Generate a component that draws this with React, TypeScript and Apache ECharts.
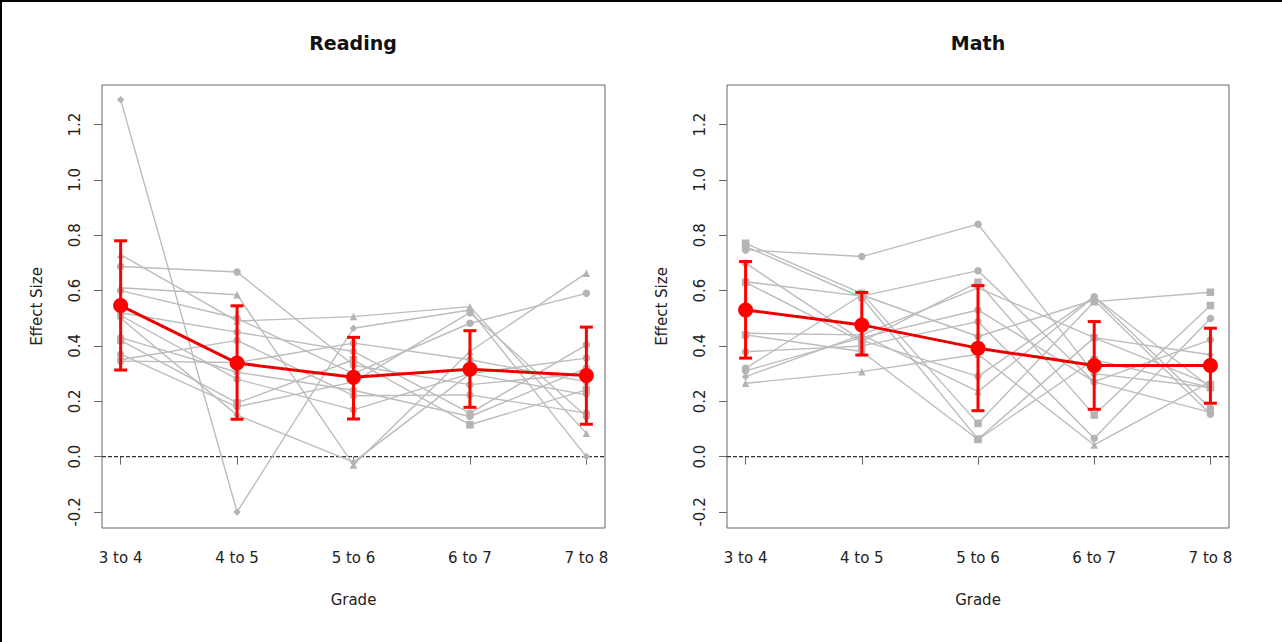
import React, { useEffect, useRef } from "react";
import * as echarts from "echarts";

const grades = ["3 to 4", "4 to 5", "5 to 6", "6 to 7", "7 to 8"];
const yTicks = [-0.2, 0, 0.2, 0.4, 0.6, 0.8, 1.0, 1.2];
const xTicks = [1, 2, 3, 4, 5];

// Reading: individual study lines (values at each grade) and their marker shapes
const readingLines: number[][] = [
  [1.29, -0.2, 0.464, 0.53, 0.0],
  [0.687, 0.667, 0.33, 0.26, 0.3],
  [0.61, 0.585, -0.03, 0.38, 0.663],
  [0.73, 0.49, 0.506, 0.542, 0.084],
  [0.6, 0.5, 0.3, 0.482, 0.59],
  [0.52, 0.45, 0.38, 0.157, 0.404],
  [0.51, 0.28, 0.169, 0.3, 0.356],
  [0.43, 0.305, 0.24, 0.145, 0.32],
  [0.42, 0.194, 0.35, 0.115, 0.241],
  [0.37, 0.18, 0.27, 0.52, 0.145],
  [0.35, 0.42, 0.22, 0.223, 0.157],
  [0.5, 0.15, -0.02, 0.3, 0.223],
  [0.345, 0.34, 0.41, 0.35, 0.27],
];
const readingShapes = ["diamond", "circle", "triangle", "triangle", "circle", "circle", "circle", "circle", "rect", "circle", "circle", "diamond", "circle"];
const readingMean = [0.546, 0.338, 0.287, 0.316, 0.293];
const readingLow = [0.313, 0.135, 0.136, 0.178, 0.117];
const readingHigh = [0.78, 0.545, 0.431, 0.455, 0.468];

// Math
const mathLines: number[][] = [
  [0.747, 0.723, 0.84, 0.3, 0.25],
  [0.771, 0.59, 0.12, 0.56, 0.594],
  [0.76, 0.575, 0.063, 0.43, 0.26],
  [0.699, 0.42, 0.29, 0.578, 0.175],
  [0.632, 0.58, 0.672, 0.27, 0.16],
  [0.63, 0.416, 0.63, 0.15, 0.546],
  [0.446, 0.44, 0.235, 0.578, 0.25],
  [0.379, 0.4, 0.488, 0.066, 0.499],
  [0.319, 0.584, 0.434, 0.566, 0.153],
  [0.289, 0.44, 0.61, 0.43, 0.368],
  [0.265, 0.307, 0.37, 0.042, 0.271],
  [0.31, 0.43, 0.53, 0.271, 0.422],
  [0.44, 0.38, 0.062, 0.35, 0.25],
];
const mathShapes = ["circle", "rect", "rect", "circle", "circle", "rect", "triangle", "circle", "circle", "diamond", "triangle", "circle", "rect"];
const mathMean = [0.53, 0.476, 0.392, 0.329, 0.329];
const mathLow = [0.356, 0.367, 0.166, 0.171, 0.193];
const mathHigh = [0.705, 0.593, 0.618, 0.488, 0.464];

const FONT = "DejaVu Sans";
const GRAY_LINE = "#bcbcbc";
const GRAY_PT = "#b4b4b4";
const RED = "#ff0000";
const AXIS = "#666666";

function panelSeries(idx: number, lines: number[][], shapes: string[], mean: number[], low: number[], high: number[]) {
  const s: any[] = [];
  lines.forEach((vals, i) => {
    s.push({
      type: "line",
      xAxisIndex: idx,
      yAxisIndex: idx,
      data: vals.map((v, j) => [xTicks[j], v]),
      symbol: shapes[i],
      symbolSize: 7.5,
      showSymbol: true,
      lineStyle: { color: GRAY_LINE, width: 1.4 },
      itemStyle: { color: GRAY_PT },
      z: 2,
      silent: true,
    });
  });
  // zero reference line
  s.push({
    type: "line",
    xAxisIndex: idx,
    yAxisIndex: idx,
    data: [[0.84, 0], [5.16, 0]],
    symbol: "none",
    lineStyle: { color: "#333333", width: 1.3, type: [4, 2] },
    z: 1,
    silent: true,
  });
  // error bars
  s.push({
    type: "custom",
    xAxisIndex: idx,
    yAxisIndex: idx,
    data: mean.map((m, j) => [xTicks[j], m, low[j], high[j]]),
    encode: { x: 0, y: [2, 3] },
    z: 3,
    silent: true,
    renderItem: (params: any, api: any) => {
      const x = api.value(0);
      const pLo = api.coord([x, api.value(2)]);
      const pHi = api.coord([x, api.value(3)]);
      const w = 6.5;
      const style = { stroke: RED, lineWidth: 3, fill: "none" };
      return {
        type: "group",
        children: [
          { type: "line", shape: { x1: pLo[0], y1: pLo[1], x2: pHi[0], y2: pHi[1] }, style },
          { type: "line", shape: { x1: pLo[0] - w, y1: pLo[1], x2: pLo[0] + w, y2: pLo[1] }, style },
          { type: "line", shape: { x1: pHi[0] - w, y1: pHi[1], x2: pHi[0] + w, y2: pHi[1] }, style },
        ],
      };
    },
  });
  // mean line (solid red under a darker dashed overlay) with big dots
  s.push({
    type: "line",
    xAxisIndex: idx,
    yAxisIndex: idx,
    data: mean.map((m, j) => [xTicks[j], m]),
    symbol: "none",
    lineStyle: { color: RED, width: 3 },
    z: 4,
    silent: true,
  });
  s.push({
    type: "line",
    xAxisIndex: idx,
    yAxisIndex: idx,
    data: mean.map((m, j) => [xTicks[j], m]),
    symbol: "circle",
    symbolSize: 15,
    itemStyle: { color: RED },
    lineStyle: { color: "#c80000", width: 1.5, type: [3, 2] },
    z: 5,
    silent: true,
  });
  return s;
}

function makeXAxis(idx: number) {
  return {
    type: "value",
    gridIndex: idx,
    min: 0.84,
    max: 5.16,
    axisLine: { show: false },
    splitLine: { show: false },
    axisTick: { show: true, length: 8, lineStyle: { color: AXIS }, customValues: xTicks },
    axisLabel: {
      customValues: xTicks,
      formatter: (v: number) => grades[Math.round(v) - 1] ?? "",
      color: "#222",
      fontFamily: FONT,
      fontSize: 15,
      margin: 22,
    },
    name: "Grade",
    nameLocation: "middle",
    nameGap: 64,
    nameTextStyle: { color: "#222", fontFamily: FONT, fontSize: 15 },
  };
}

function makeYAxis(idx: number) {
  return {
    type: "value",
    gridIndex: idx,
    min: -0.258,
    max: 1.343,
    axisLine: { show: false },
    splitLine: { show: false },
    axisTick: { show: true, length: 8, lineStyle: { color: AXIS }, customValues: yTicks },
    axisLabel: {
      customValues: yTicks,
      formatter: (v: number) => v.toFixed(1),
      rotate: 90,
      color: "#222",
      fontFamily: FONT,
      fontSize: 15,
      margin: 20,
    },
    name: "Effect Size",
    nameLocation: "middle",
    nameRotate: 90,
    nameGap: 58,
    nameTextStyle: { color: "#222", fontFamily: FONT, fontSize: 15 },
  };
}

export default function App() {
  const ref = useRef<HTMLDivElement>(null);
  useEffect(() => {
    if (!ref.current) return;
    const chart = echarts.init(ref.current, undefined, { renderer: "svg" });
    const option: any = {
      animation: false,
      backgroundColor: "#ffffff",
      textStyle: { fontFamily: FONT },
      title: [
        {
          text: "Reading",
          left: 348,
          top: 28,
          textAlign: "center",
          textStyle: { fontFamily: FONT, fontWeight: "bold", fontSize: 19, color: "#111" },
        },
        {
          text: "Math",
          left: 973,
          top: 28,
          textAlign: "center",
          textStyle: { fontFamily: FONT, fontWeight: "bold", fontSize: 19, color: "#111" },
        },
      ],
      grid: [
        { left: 102, top: 85, width: 503, height: 443, show: true, borderColor: AXIS, borderWidth: 1, backgroundColor: "transparent" },
        { left: 727, top: 85, width: 502, height: 443, show: true, borderColor: AXIS, borderWidth: 1, backgroundColor: "transparent" },
      ],
      xAxis: [makeXAxis(0), makeXAxis(1)],
      yAxis: [makeYAxis(0), makeYAxis(1)],
      graphic: [
        { type: "line", shape: { x1: 0, y1: 1, x2: 1282, y2: 1 }, style: { stroke: "#000", lineWidth: 2 } },
        { type: "line", shape: { x1: 1, y1: 0, x2: 1, y2: 642 }, style: { stroke: "#000", lineWidth: 2 } },
      ],
      series: [
        ...panelSeries(0, readingLines, readingShapes, readingMean, readingLow, readingHigh),
        ...panelSeries(1, mathLines, mathShapes, mathMean, mathLow, mathHigh),
      ],
    };
    chart.setOption(option);
    return () => chart.dispose();
  }, []);
  return (
    <div
      ref={ref}
      style={{ position: "fixed", left: 0, top: 0, width: 1282, height: 642, background: "#fff" }}
    />
  );
}
